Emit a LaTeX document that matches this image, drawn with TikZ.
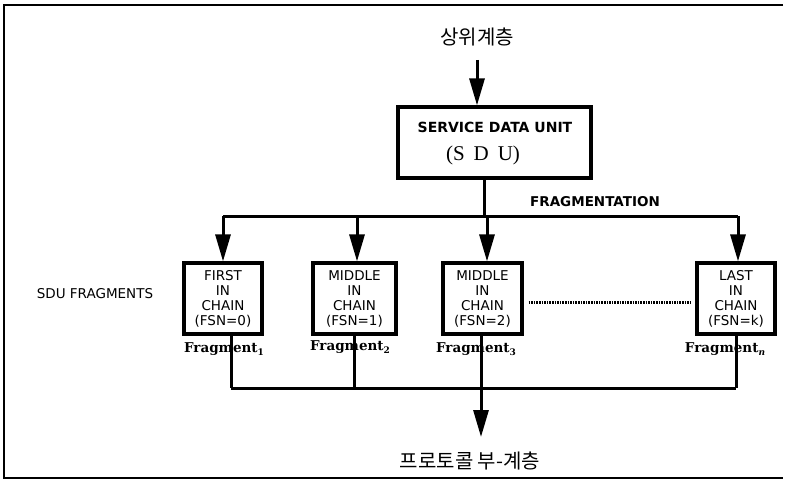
\documentclass[tikz,border=0pt]{standalone}
\usepackage{fontspec}
\usetikzlibrary{arrows.meta,calc}
\newfontfamily\krfont{Noto Sans CJK KR}
\newfontfamily\labfont{DejaVu Sans}
\newfontfamily\fragfont{DejaVu Serif}
\newfontfamily\sdufont{Liberation Serif}
\newcommand{\fragidx}[1]{\raisebox{-3pt}{\fontsize{9}{9}\selectfont #1}}

\begin{document}
\begin{tikzpicture}[x=1pt,y=-1pt,
  conn/.style={line width=3pt},
  arr/.style={conn,-{Triangle[length=27pt,width=15pt]}},
  unitbox/.style={draw,line width=3.2pt,inner sep=0pt},
  fragbox/.style={unitbox,minimum height=71pt,align=center,
    font=\labfont\fontsize{13.5}{15}\selectfont},
  fraglab/.style={font=\fragfont\bfseries\fontsize{13.5}{15}\selectfont},
  krlab/.style={font=\krfont\fontsize{20}{24}\selectfont}
]
\useasboundingbox (0,0) rectangle (800,481);

% outer frame
\draw[line width=2.4pt] (783,5) -- (4,5) -- (4,478) -- (783,478);

% upper layer and the service data unit
\node[krlab] (upper) at (477,37) {상위계층};
\node[unitbox,minimum width=193pt,minimum height=71pt] (sdu) at (494.5,142.5) {};
\node[font=\labfont\bfseries\fontsize{14}{16}\selectfont] (sdutitle) at (495,127) {SERVICE DATA UNIT};
\node[font=\sdufont\fontsize{21}{24}\selectfont] (sduabbr) at (483,155) {(S\hspace{9pt}D\hspace{9pt}U)};

\coordinate (in) at (477,60);
\draw[arr] (in) -- (in |- sdu.north);

% fragmentation fan-out
\node[font=\labfont\bfseries\fontsize{13.5}{16}\selectfont] (fraglabel) at (595,202) {FRAGMENTATION};
\coordinate (split) at (484,216);
\coordinate (f1) at (223,216);
\coordinate (f2) at (357,216);
\coordinate (f3) at (487,216);
\coordinate (f4) at (738,216);

% fragments
\node[font=\labfont\fontsize{13.5}{16}\selectfont] (sdufrag) at (95,294) {SDU FRAGMENTS};
\node[fragbox,minimum width=78pt] (b1) at (223,298.5) {FIRST\\IN\\CHAIN\\(FSN=0)};
\node[fragbox,minimum width=83pt] (b2) at (354.5,298.5) {MIDDLE\\IN\\CHAIN\\(FSN=1)};
\node[fragbox,minimum width=79pt] (b3) at (482.5,298.5) {MIDDLE\\IN\\CHAIN\\(FSN=2)};
\node[fragbox,minimum width=78pt] (b4) at (736,298.5) {LAST\\IN\\CHAIN\\(FSN=k)};

\draw[conn] (split |- sdu.south) -- (split);
\draw[conn] (f1) -- (f4);
\draw[arr] (f1) -- (f1 |- b1.north);
\draw[arr] (f2) -- (f2 |- b2.north);
\draw[arr] (f3) -- (f3 |- b3.north);
\draw[arr] (f4) -- (f4 |- b4.north);

% continuation between the middle and last fragments
\draw[line width=2.6pt,dash pattern=on 1.6pt off 1pt] ($(b3.east)+(5,4)$) -- ($(b4.west)+(-4,4)$);

% fragment names
\node[fraglab] (n1) at (224,349) {Fragment\fragidx{1}};
\node[fraglab] (n2) at (350,347) {Fragment\fragidx{2}};
\node[fraglab] (n3) at (476,349) {Fragment\fragidx{3}};
\node[fraglab] (n4) at (725,349) {Fragment\fragidx{\itshape n}};

% reassembly towards the protocol sublayer
\coordinate (g1) at (231,388);
\coordinate (g2) at (354,388);
\coordinate (g3) at (481,388);
\coordinate (g4) at (736,388);
\draw[conn] (g1 |- b1.south) -- (g1);
\draw[conn] (g2 |- b2.south) -- (g2);
\draw[conn] (g3 |- b3.south) -- (g3);
\draw[conn] (g4 |- b4.south) -- (g4);
\draw[conn] (g1) -- (g4);

\node[krlab] (lower) at (470,461) {프로토콜 부-계층};
\draw[arr] (g3) -- (481,437) coordinate (out);
\end{tikzpicture}
\end{document}
